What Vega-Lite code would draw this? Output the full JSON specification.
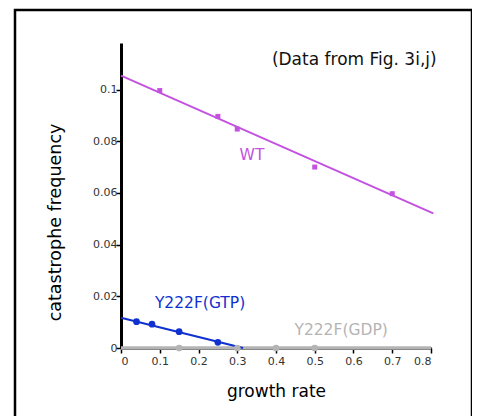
{
  "$schema": "https://vega.github.io/schema/vega-lite/v6.json",
  "width": 457,
  "height": 412,
  "autosize": {"type": "none"},
  "padding": {"left": 15, "top": 10, "right": 0, "bottom": 0},
  "background": "white",
  "config": {
    "view": {"stroke": "black", "strokeWidth": 2.5},
    "font": "DejaVu Sans"
  },
  "datasets": {
    "points": [
      {"series": "WT", "x": 0.1, "y": 0.0996},
      {"series": "WT", "x": 0.25, "y": 0.0896},
      {"series": "WT", "x": 0.3, "y": 0.0847},
      {"series": "WT", "x": 0.5, "y": 0.070},
      {"series": "WT", "x": 0.7, "y": 0.0597},
      {"series": "GTP", "x": 0.04, "y": 0.0102},
      {"series": "GTP", "x": 0.08, "y": 0.0092},
      {"series": "GTP", "x": 0.15, "y": 0.0063},
      {"series": "GTP", "x": 0.25, "y": 0.0022},
      {"series": "GDP", "x": 0.15, "y": 0},
      {"series": "GDP", "x": 0.3, "y": 0},
      {"series": "GDP", "x": 0.4, "y": 0},
      {"series": "GDP", "x": 0.5, "y": 0}
    ],
    "fits": [
      {"series": "WT", "x": 0, "y": 0.1054},
      {"series": "WT", "x": 0.806, "y": 0.0521},
      {"series": "GTP", "x": 0, "y": 0.0117},
      {"series": "GTP", "x": 0.315, "y": 0},
      {"series": "GDP", "x": 0, "y": 0},
      {"series": "GDP", "x": 0.8, "y": 0}
    ],
    "labels": [
      {"series": "WT", "text": "WT", "x": 0.338, "y": 0.0745},
      {"series": "GTP", "text": "Y222F(GTP)", "x": 0.204, "y": 0.0175},
      {"series": "GDP", "text": "Y222F(GDP)", "x": 0.568, "y": 0.0069}
    ],
    "notes": [
      {"series": "note", "text": "(Data from Fig. 3i,j)", "x": 0.602, "y": 0.1116}
    ]
  },
  "layer": [
    {
      "data": {"name": "fits"},
      "transform": [{"filter": "datum.series === 'GDP'"}],
      "mark": {"type": "line", "strokeWidth": 3.5, "color": "#b4b4b4"},
      "encoding": {
        "x": {
          "field": "x", "type": "quantitative",
          "scale": {"domain": [0, 0.8], "range": [106, 416], "nice": false, "zero": false},
          "axis": {
            "orient": "bottom", "offset": -74, "grid": false,
            "values": [0, 0.1, 0.2, 0.3, 0.4, 0.5, 0.6, 0.7, 0.8],
            "format": "~g",
            "domainColor": "black", "domainWidth": 3,
            "tickColor": "black", "tickWidth": 1.5, "tickSize": 5,
            "labelFontSize": 11, "labelColor": "#333", "labelPadding": 2,
            "title": "growth rate", "titleFontSize": 17, "titleFontWeight": "normal",
            "titleColor": "black", "titleBaseline": "middle", "titleY": 43,
            "zindex": 0
          }
        },
        "y": {
          "field": "y", "type": "quantitative",
          "scale": {"domain": [0, 0.118], "range": [338, 33], "nice": false, "zero": false},
          "axis": {
            "orient": "left", "offset": -106, "grid": false,
            "values": [0, 0.02, 0.04, 0.06, 0.08, 0.1],
            "format": "~g",
            "domainColor": "black", "domainWidth": 3,
            "tickColor": "black", "tickWidth": 1.5, "tickSize": 5,
            "labelFontSize": 11, "labelColor": "#333", "labelPadding": -1,
            "title": "catastrophe frequency", "titleFontSize": 17.5, "titleFontWeight": "normal",
            "titleColor": "black", "titleBaseline": "middle", "titleAlign": "center",
            "titleAngle": -90, "titleX": -66, "titleY": 212,
            "zindex": 0
          }
        }
      }
    },
    {
      "data": {"name": "fits"},
      "transform": [{"filter": "datum.series !== 'GDP'"}],
      "mark": {"type": "line", "strokeWidth": 2},
      "encoding": {
        "x": {"field": "x", "type": "quantitative"},
        "y": {"field": "y", "type": "quantitative"},
        "color": {
          "field": "series", "type": "nominal",
          "scale": {"domain": ["WT", "GTP", "GDP", "note"], "range": ["#c452e0", "#1030d0", "#b4b4b4", "#111111"]},
          "legend": null
        }
      }
    },
    {
      "data": {"name": "points"},
      "transform": [{"filter": "datum.series === 'WT'"}],
      "mark": {"type": "point", "shape": "square", "filled": true, "size": 25, "opacity": 1},
      "encoding": {
        "x": {"field": "x", "type": "quantitative"},
        "y": {"field": "y", "type": "quantitative"},
        "color": {"field": "series", "type": "nominal", "legend": null}
      }
    },
    {
      "data": {"name": "points"},
      "transform": [{"filter": "datum.series !== 'WT'"}],
      "mark": {"type": "circle", "size": 45, "opacity": 1},
      "encoding": {
        "x": {"field": "x", "type": "quantitative"},
        "y": {"field": "y", "type": "quantitative"},
        "color": {"field": "series", "type": "nominal", "legend": null}
      }
    },
    {
      "data": {"name": "labels"},
      "mark": {"type": "text", "fontSize": 15.5, "align": "center", "baseline": "middle"},
      "encoding": {
        "x": {"field": "x", "type": "quantitative"},
        "y": {"field": "y", "type": "quantitative"},
        "text": {"field": "text"},
        "color": {"field": "series", "type": "nominal", "legend": null}
      }
    },
    {
      "data": {"name": "notes"},
      "mark": {"type": "text", "fontSize": 17, "align": "center", "baseline": "middle"},
      "encoding": {
        "x": {"field": "x", "type": "quantitative"},
        "y": {"field": "y", "type": "quantitative"},
        "text": {"field": "text"},
        "color": {"field": "series", "type": "nominal", "legend": null}
      }
    }
  ]
}
